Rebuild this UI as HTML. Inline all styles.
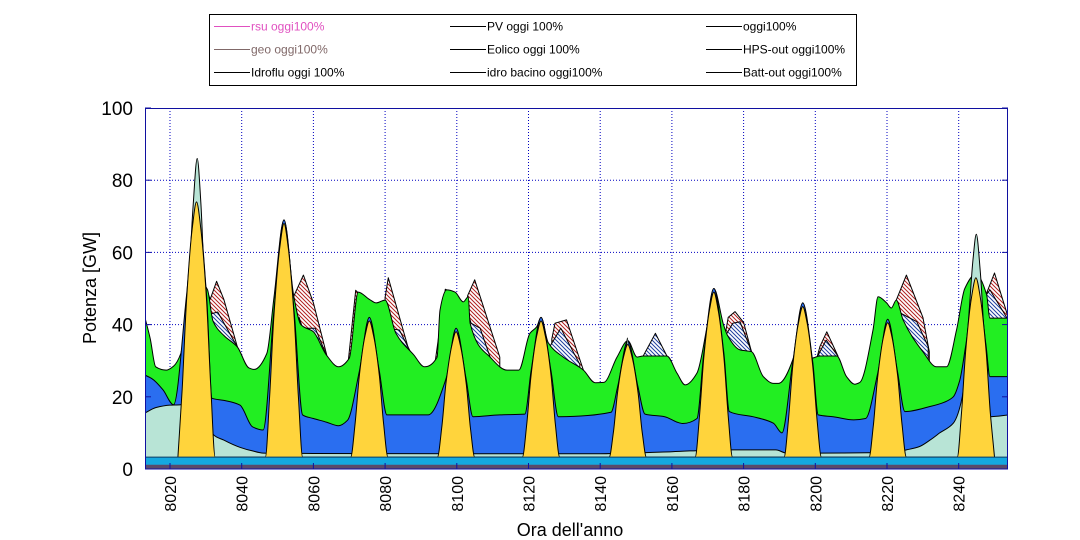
<!DOCTYPE html>
<html><head><meta charset="utf-8"><style>
body{margin:0;background:#fff;}
svg{display:block;font-family:"Liberation Sans",Arial,sans-serif;}
</style></head><body>
<svg id="chart" width="1080" height="540" viewBox="0 0 1080 540" xmlns="http://www.w3.org/2000/svg">
<defs>
<clipPath id="plotClip"><rect x="145" y="108" width="863" height="361"/></clipPath>
<pattern id="hatchRed" width="4" height="4" patternUnits="userSpaceOnUse">
<rect width="4" height="4" fill="#fff"/><path d="M-1,-1 L5,5 M-1,3 L1,5 M3,-1 L5,1" stroke="#b02020" stroke-width="1"/></pattern>
<pattern id="hatchBlue" width="4" height="4" patternUnits="userSpaceOnUse">
<rect width="4" height="4" fill="#fff"/><path d="M-1,-1 L5,5 M-1,3 L1,5 M3,-1 L5,1" stroke="#2040a0" stroke-width="1"/></pattern>
</defs>
<rect x="0" y="0" width="1080" height="540" fill="#fff"/>
<g id="legend">
<rect x="209.5" y="14.5" width="647" height="71" fill="#fff" stroke="#000"/>
</g>
<g id="grid"></g>
<g id="layers" clip-path="url(#plotClip)"></g>
<rect x="145.5" y="108.5" width="862" height="360.5" fill="none" stroke="#1010a0" stroke-width="1"/>
<g id="axes"></g>
<text x="96" y="288" font-size="18" text-anchor="middle" transform="rotate(-90 96 288)">Potenza [GW]</text>
<text x="570" y="536" font-size="18" text-anchor="middle">Ora dell'anno</text>
</svg>
<script>
const xTicks = [8020,8040,8060,8080,8100,8120,8140,8160,8180,8200,8220,8240];
const yTicks = [0,20,40,60,80,100];

const tealHours = [8013,8016,8020,8023,8024,8025,8026.4,8027.6,8028.6,8030,8031.7,8035,8039.5,8043,8046,8060,8100,8140,8146,8147.6,8149,8160,8165,8175,8189,8192,8222,8225.4,8229,8232,8234.7,8238.5,8241,8243,8244,8244.9,8246,8247.5,8248.7,8254];
const tealValues = [15.5,17,17.7,17.8,20,45,72,86,74,40,10,8,6,5,4.4,4.3,4.2,4.2,4.5,36.3,4.5,4.8,5,5.3,5.3,4.4,4.6,5.3,6.2,8,10,12.7,20,45,58,65,55,30,14.5,15];

const pvHours = [8022.2,8023.4,8024.6,8026.2,8027.4,8028.6,8030.2,8031.4,8032.6,
8046.6,8047.8,8049,8050.6,8051.8,8053,8054.6,8055.8,8057,
8070.4,8071.6,8072.8,8074.4,8075.6,8076.8,8078.4,8079.6,8080.8,
8094.6,8095.8,8097,8098.6,8099.8,8101,8102.6,8103.8,8105,
8118.3,8119.5,8120.7,8122.3,8123.5,8124.7,8126.3,8127.5,8128.7,
8142.5,8143.7,8144.9,8146.5,8147.7,8148.9,8150.5,8151.7,8152.9,
8166.5,8167.7,8168.9,8170.5,8171.7,8172.9,8174.5,8175.7,8176.9,
8191.3,8192.5,8193.7,8195.3,8196.5,8197.7,8199.3,8200.5,8201.7,
8215,8216.2,8217.4,8219,8220.2,8221.4,8223,8224.2,8225.4,
8239.6,8240.8,8242,8243.6,8244.8,8246,8247.6,8248.8,8250];
const pvValues = [3.3,22.2,46.6,66.6,74,66.6,46.6,22.2,3.3,
3.3,20.4,42.8,61.2,68,61.2,42.8,20.4,3.3,
3.3,12.3,25.8,36.9,41,36.9,25.8,12.3,3.3,
3.3,11.4,23.9,34.2,38,34.2,23.9,11.4,3.3,
3.3,12.3,25.8,36.9,41,36.9,25.8,12.3,3.3,
3.3,10.4,21.7,31,34.5,31,21.7,10.4,3.3,
3.3,14.7,30.9,44.1,49,44.1,30.9,14.7,3.3,
3.3,13.5,28.4,40.5,45,40.5,28.4,13.5,3.3,
3.3,12.2,25.5,36.5,40.5,36.5,25.5,12.2,3.3,
3.3,15.9,33.4,47.7,53,47.7,33.4,15.9,3.3];

const blueHours = [8013,8015,8018,8021,8024.6,8027.4,8030.2,8031.7,8035,8039.5,8043,8046,8049,8051.8,8054.6,8057,8060,8063.6,8067,8069.5,8072.8,8075.6,8078.4,8080.5,8092,8097,8099.8,8102.6,8104.5,8112,8119,8120.7,8123.5,8126.3,8128.3,8143,8144.9,8147.7,8150.5,8152.5,8158,8161.4,8163,8167,8168.9,8171.7,8174.5,8176,8182.6,8188.3,8190.7,8193.7,8196.5,8199.3,8200.8,8205,8210.7,8214,8217.4,8220.2,8223,8225,8232,8236,8238.5,8240.3,8242,8244.8,8247.6,8248.7,8254];
const blueValues = [26,25,22,17.8,48,75,48,19.6,19,17.7,11.7,10.8,44,69,44,15,14,13,12,13.5,27,42,27,15,15,25,39,25,14.5,15,15.2,27,42,27,14.5,15.7,23,35.5,23,15.2,14.5,13,12.6,14,32,50,32,15.9,14.5,12.7,10,29.5,46,29.5,15,14.5,13.6,14,26.5,41.5,26.5,15.9,17.3,18.5,20,24.6,34.5,54,34.5,25.6,25.6];

const greenHours = [8013,8014.5,8016,8019,8021,8023,8025,8026,8027.4,8029,8030.5,8032,8035,8038.8,8042,8043.5,8047,8049,8051.8,8054.5,8056.5,8060,8063.6,8067,8070,8072.5,8075.6,8077.5,8080,8083,8088,8091,8094.5,8095.3,8097.2,8099.5,8101.8,8103.2,8103.7,8109.3,8114,8117.3,8120.4,8122.3,8123.5,8125.5,8129.7,8135.3,8138.6,8141,8144.7,8147.7,8150.3,8152,8158.6,8161.4,8163.7,8167,8169.8,8171.7,8174.4,8175.5,8179,8182.2,8185.5,8188.3,8189.7,8194.3,8196.5,8198.9,8201.3,8206,8208.7,8211,8212.4,8216.1,8217.5,8219.9,8221.2,8222.6,8224.5,8230,8233.8,8236.6,8239.4,8241.7,8244.8,8247.8,8248.7,8254];
const greenValues = [42,36,28.3,27.4,28.5,32,45,48,75,52,49.6,41,37,33.8,28,27.6,32,47.6,69,48,40,38,31.6,28.3,30.7,49,47,46,46.8,37.6,31.6,28.3,31,44,49.6,49,46.3,47.7,40.4,31,27.4,27.4,37.6,39.4,42,35,31,27.4,23.9,24,31,35.5,31,31.3,31.3,26.6,23.3,26.6,39.4,50,40,37,33,32.5,25.6,23.7,23.7,32,46,30.7,31.3,31.3,25.6,23.5,24,38.5,47.7,46,44.6,46.8,41.3,32.5,28.3,28.3,38.5,50,54,48.2,41.8,41.8];

const hatchBlueHours = [8030.8,8031.5,8033.3,8038.8,NaN,8056,8057,8060.5,8063.6,NaN,8080,8080.5,8084,8087.5,NaN,8103.5,8104,8106.5,8109.3,NaN,8126,8129,8134.3,NaN,8152,8155.4,8158.6,NaN,8175,8177,8179,8182.2,NaN,8200.5,8203,8206.3,NaN,8222.6,8223.7,8228.3,8231.5,NaN,8247.5,8248.7,8253.5,8254];
const hatchBlueValues = [45,43,43.5,33.8,NaN,42,39,39,31.6,NaN,44,39,38.5,31.6,NaN,42,40.4,39,31,NaN,34,39,29,NaN,31.3,37.6,31.3,NaN,37,40.4,40.8,32.5,NaN,31,35.7,31.3,NaN,46,43.2,40.8,33.9,NaN,48,49.6,41.8,41.8];
const hatchRedHours = [8030.5,8031.2,8033,8035,8038.8,NaN,8054.4,8057.2,8060,8063.7,NaN,8069.8,8071.8,8072.3,NaN,8080,8080.9,8087,NaN,8094,8096.8,8097.2,NaN,8103,8105,8112,NaN,8126.5,8127.4,8130.6,8135.3,NaN,8175,8175.7,8177.6,8180,8182.2,NaN,8200.5,8201.3,8203.2,8206.3,NaN,8222.6,8225.4,8230,8231.8,NaN,8247.5,8250,8253.5,8254];
const hatchRedValues = [49,47,52,47,33.8,NaN,47.6,53.7,46,31.6,NaN,30.5,49.5,49,NaN,47.5,53,31.6,NaN,30,49.8,49.6,NaN,48,52.4,31,NaN,36,40.4,41.3,27.4,NaN,38,42,43.6,40.6,32.5,NaN,31,34,38,31.3,NaN,46.8,53.7,42,32.5,NaN,48,54.3,43,42];

const cyanTop = 3.3;
const darkTop = 1.2;

const SVGNS = "http://www.w3.org/2000/svg";
function xs(h){ return 170 + (h - 8020) * 3.585; }
function ys(v){ return 469 - v * 3.61; }

function segments(hours, values){
  const segs = []; let cur = [];
  for (let i = 0; i < hours.length; i++){
    if (isNaN(hours[i])) { if (cur.length) segs.push(cur); cur = []; continue; }
    cur.push([hours[i], values[i]]);
  }
  if (cur.length) segs.push(cur);
  return segs;
}
// monotone cubic interpolation through pixel points
function smoothLine(pts){
  const n = pts.length;
  if (n < 3) return pts.map(p => " L" + p[0].toFixed(1) + "," + p[1].toFixed(1)).join("");
  const dx = [], dy = [], m = [];
  for (let i = 0; i < n - 1; i++){ dx.push(pts[i+1][0]-pts[i][0]); dy.push(pts[i+1][1]-pts[i][1]); m.push(dy[i]/(dx[i]||1e-6)); }
  const t = [m[0]];
  for (let i = 1; i < n - 1; i++){
    if (m[i-1]*m[i] <= 0) t.push(0);
    else { const w1 = 2*dx[i]+dx[i-1], w2 = dx[i]+2*dx[i-1]; t.push((w1+w2)/(w1/m[i-1]+w2/m[i])); }
  }
  t.push(m[n-2]);
  let d = " L" + pts[0][0].toFixed(1) + "," + pts[0][1].toFixed(1);
  for (let i = 0; i < n - 1; i++){
    const h = dx[i]/3;
    d += " C" + (pts[i][0]+h).toFixed(1) + "," + (pts[i][1]+t[i]*h).toFixed(1) + " " +
         (pts[i+1][0]-h).toFixed(1) + "," + (pts[i+1][1]-t[i+1]*h).toFixed(1) + " " +
         pts[i+1][0].toFixed(1) + "," + pts[i+1][1].toFixed(1);
  }
  return d;
}
function areaPath(seg, smooth){
  const pts = seg.map(p => [xs(p[0]), ys(p[1])]);
  let d = "M" + pts[0][0].toFixed(1) + "," + ys(0);
  if (smooth) d += smoothLine(pts);
  else pts.forEach(p => { d += " L" + p[0].toFixed(1) + "," + p[1].toFixed(1); });
  d += " L" + pts[pts.length-1][0].toFixed(1) + "," + ys(0) + " Z";
  return d;
}
const layers = document.getElementById('layers');
function drawArea(hours, values, fill, stroke, name, smooth){
  segments(hours, values).forEach(seg => {
    const p = document.createElementNS(SVGNS, 'path');
    p.setAttribute('d', areaPath(seg, smooth));
    p.setAttribute('fill', fill);
    p.setAttribute('stroke', stroke);
    p.setAttribute('stroke-width', '1');
    p.setAttribute('stroke-linejoin', 'round');
    
    
    layers.appendChild(p);
  });
}

const grid = document.getElementById('grid');
xTicks.forEach(t => {
  const l = document.createElementNS(SVGNS, 'line');
  l.setAttribute('x1', xs(t)); l.setAttribute('x2', xs(t));
  l.setAttribute('y1', 108); l.setAttribute('y2', 469);
  l.setAttribute('stroke', '#0000c0'); l.setAttribute('stroke-dasharray', '1,2');
  
  
  grid.appendChild(l);
});
yTicks.forEach(t => {
  if (t === 0 || t === 100) return;
  const l = document.createElementNS(SVGNS, 'line');
  l.setAttribute('x1', 145); l.setAttribute('x2', 1008);
  l.setAttribute('y1', ys(t)); l.setAttribute('y2', ys(t));
  l.setAttribute('stroke', '#0000c0'); l.setAttribute('stroke-dasharray', '1,2');
  
  
  grid.appendChild(l);
});

drawArea(hatchRedHours, hatchRedValues, 'url(#hatchRed)', '#000', 'area-batt-out', false);
drawArea(hatchBlueHours, hatchBlueValues, 'url(#hatchBlue)', '#000', 'area-hps-out', false);
drawArea(greenHours, greenValues, '#22ee22', '#000', 'area-eolico', true);
drawArea(blueHours, blueValues, '#2a6ef0', '#000', 'area-idro-bacino', true);
drawArea(tealHours, tealValues, '#b8e4d6', '#000', 'area-oggi100', true);
drawArea(pvHours, pvValues, '#ffd43c', '#000', 'area-pv', true);
drawArea([8013, 8254], [cyanTop, cyanTop], '#14a8e0', '#0a3a60', 'area-idroflu', false);
drawArea([8013, 8254], [darkTop, darkTop], '#5a4a6a', 'none', 'area-rsu-geo', false);

const axes = document.getElementById('axes');
xTicks.forEach(t => {
  const tk = document.createElementNS(SVGNS, 'line');
  tk.setAttribute('x1', xs(t)); tk.setAttribute('x2', xs(t));
  tk.setAttribute('y1', 463); tk.setAttribute('y2', 469);
  tk.setAttribute('stroke', '#1010a0');
  
  
  axes.appendChild(tk);
  const tx = document.createElementNS(SVGNS, 'text');
  const x = xs(t) + 6, y = 476;
  tx.setAttribute('x', x); tx.setAttribute('y', y);
  tx.setAttribute('font-size', '16');
  tx.setAttribute('text-anchor', 'end');
  tx.setAttribute('transform', 'rotate(-90 ' + x + ' ' + y + ')');
  tx.textContent = t;
  
  
  axes.appendChild(tx);
});
yTicks.forEach(t => {
  [[145,151],[1002,1008]].forEach(xx => {
    const tk = document.createElementNS(SVGNS, 'line');
    tk.setAttribute('x1', xx[0]); tk.setAttribute('x2', xx[1]);
    tk.setAttribute('y1', ys(t)); tk.setAttribute('y2', ys(t));
    tk.setAttribute('stroke', '#1010a0');
    
    
    axes.appendChild(tk);
  });
  const tx = document.createElementNS(SVGNS, 'text');
  tx.setAttribute('x', 133); tx.setAttribute('y', ys(t) + 7);
  tx.setAttribute('font-size', '19');
  tx.setAttribute('text-anchor', 'end');
  tx.textContent = t;
  
  
  axes.appendChild(tx);
});

const legendLabels = ['rsu oggi100%','PV oggi 100%','oggi100%','geo oggi100%','Eolico oggi 100%','HPS-out oggi100%','Idroflu oggi 100%','idro bacino oggi100%','Batt-out oggi100%'];
const legendColors = ['#e050c0','#000','#000','#806868','#000','#000','#000','#000','#000'];
const legendTextColors = ['#e050c0','#000','#000','#806868','#000','#000','#000','#000','#000'];
const legend = document.getElementById('legend');
legendLabels.forEach((lab, i) => {
  const col = i % 3, row = Math.floor(i / 3);
  const lx = [214, 450, 706][col], ly = 26.5 + row * 23;
  const ln = document.createElementNS(SVGNS, 'line');
  ln.setAttribute('x1', lx); ln.setAttribute('x2', lx + 36);
  ln.setAttribute('y1', ly); ln.setAttribute('y2', ly);
  ln.setAttribute('stroke', legendColors[i]);
  
  
  legend.appendChild(ln);
  const tx = document.createElementNS(SVGNS, 'text');
  tx.setAttribute('x', lx + 37); tx.setAttribute('y', ly + 4);
  tx.setAttribute('font-size', '12');
  tx.setAttribute('fill', legendTextColors[i]);
  tx.textContent = lab;
  
  
  legend.appendChild(tx);
});
</script>
</body></html>
